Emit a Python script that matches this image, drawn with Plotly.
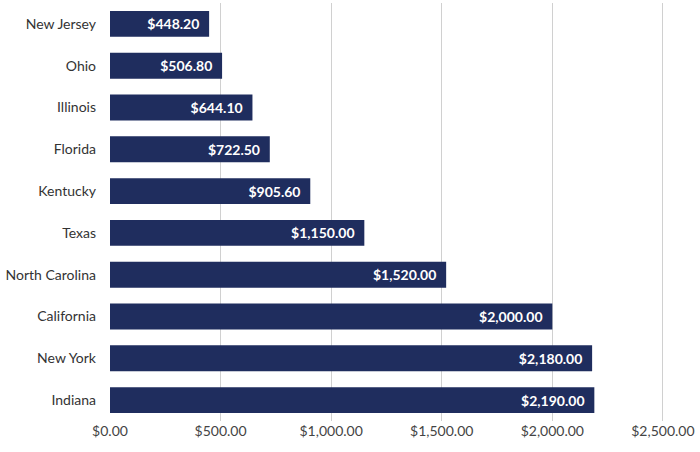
import plotly.graph_objects as go

states = ["New Jersey", "Ohio", "Illinois", "Florida", "Kentucky", "Texas",
          "North Carolina", "California", "New York", "Indiana"]
values = [448.20, 506.80, 644.10, 722.50, 905.60, 1150.00, 1520.00, 2000.00, 2180.00, 2190.00]
tick_vals = [0, 500, 1000, 1500, 2000, 2500]
tick_text = ["$0.00", "$500.00", "$1,000.00", "$1,500.00", "$2,000.00", "$2,500.00"]

labels = ["${:,.2f}\u00a0\u00a0".format(v) for v in values]

fig = go.Figure(go.Bar(
    x=values, y=states, orientation="h",
    marker=dict(color="#1f2d5e", line=dict(width=0)),
    width=0.62,
    text=labels, textposition="inside", insidetextanchor="end",
    textfont=dict(family="Lato", size=14, color="white", weight="bold"),
    cliponaxis=False,
))

fig.update_layout(
    width=700, height=452,
    margin=dict(l=110, r=36, t=3, b=31),
    plot_bgcolor="white", paper_bgcolor="white",
    showlegend=False,
    font=dict(family="Lato", size=14, color="#333333"),
    uniformtext=dict(minsize=14, mode="show"),
)
fig.update_xaxes(range=[0, 2505], tickvals=tick_vals, ticktext=tick_text,
                 showgrid=True, gridcolor="#d0d0d0", gridwidth=1,
                 zeroline=False, showline=False, ticks="", ticklen=0,
                 tickfont=dict(size=14, color="#444444"))
fig.update_yaxes(autorange="reversed", categoryorder="array", categoryarray=states,
                 showgrid=False, ticks="", ticklabelstandoff=13,
                 tickfont=dict(size=14, color="#333333"))

fig.write_html("out.html")
